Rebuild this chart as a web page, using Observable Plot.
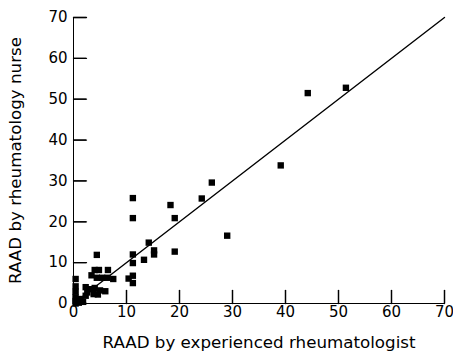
<!DOCTYPE html>
<html>
<head>
<meta charset="utf-8">
<script src="https://cdn.jsdelivr.net/npm/d3@7"></script>
<script src="https://cdn.jsdelivr.net/npm/@observablehq/plot@0.6"></script>
<style>
  html, body { margin: 0; padding: 0; background: #fff; }
  #chart svg { display: block; }
</style>
</head>
<body>
<div id="chart"></div>
<script>
// RAAD scores: experienced rheumatologist (x) vs rheumatology nurse (y)
const rheumatologist = [51.4, 44.2, 39.1, 26.1, 24.2, 29.0,
  11.2, 18.3, 11.2, 19.1, 14.2, 15.2, 15.2, 19.1, 11.2, 13.3, 11.2, 11.2, 10.4, 11.2,
  4.4, 4.0, 4.8, 6.5, 3.4, 4.4, 5.4, 6.4, 7.5,
  2.3, 3.0, 4.0, 5.0, 2.6, 3.8, 4.6, 6.0,
  0.4, 0.4, 0.4, 0.4, 0.4, 0.4, 1.0, 1.3, 1.8, 0.9, 2.3];
const nurse = [52.8, 51.5, 33.8, 29.6, 25.7, 16.6,
  25.8, 24.1, 20.9, 20.9, 14.9, 13.0, 12.0, 12.7, 12.0, 10.7, 9.9, 6.8, 6.1, 5.0,
  11.9, 8.2, 8.2, 8.2, 6.9, 6.3, 6.3, 6.3, 6.0,
  4.0, 3.5, 3.8, 3.2, 2.7, 2.3, 2.2, 3.0,
  6.0, 4.2, 2.9, 1.5, 0.6, 0.0, 0.2, 1.1, 0.4, 1.0, 1.9];
const axisTicks = [0, 10, 20, 30, 40, 50, 60, 70];
const identityLine = [0, 70];
const xLabel = "RAAD by experienced rheumatologist";
const yLabel = "RAAD by rheumatology nurse";

const points = rheumatologist.map((x, i) => ({x, y: nurse[i]}));
const linePts = identityLine.map(v => ({x: v, y: v}));
const noText = () => "";
const W = 453, H = 358, mL = 73, mR = 9, mT = 17, mB = 55, tickLen = 13;
const domainMax = 70;
// tick length expressed in data units of each scale (13px inward)
const xTickUnits = tickLen * domainMax / (H - mT - mB);
const yTickUnits = tickLen * domainMax / (W - mL - mR);
const xTickSegs = axisTicks.flatMap(t => [{x: t, y: 0, k: t}, {x: t, y: xTickUnits, k: t}]);
const yTickSegs = axisTicks.flatMap(t => [{x: 0, y: t, k: t}, {x: yTickUnits, y: t, k: t}]);

const chart = Plot.plot({
  width: W,
  height: H,
  marginLeft: mL,
  marginRight: mR,
  marginTop: mT,
  marginBottom: mB,
  style: {fontFamily: "'DejaVu Sans', sans-serif", fontSize: "15px", color: "#000", background: "#fff"},
  x: {domain: [0, domainMax]},
  y: {domain: [0, domainMax]},
  marks: [
    // tick labels
    Plot.axisX(axisTicks, {tickSize: 0, tickPadding: 3, fontSize: 15, label: null}),
    Plot.axisY(axisTicks, {tickSize: 0, tickPadding: 6, fontSize: 15, label: null}),
    // inward tick marks
    Plot.axisX(axisTicks, {tickSize: tickLen, dy: -tickLen, tickFormat: noText, label: null, strokeWidth: 1.2}),
    Plot.axisY(axisTicks, {tickSize: tickLen, dx: tickLen, tickFormat: noText, label: null, strokeWidth: 1.2}),
    Plot.line(xTickSegs, {x: "x", y: "y", z: "k", stroke: "#000", strokeWidth: 1.3}),
    Plot.line(yTickSegs, {x: "x", y: "y", z: "k", stroke: "#000", strokeWidth: 1.3}),
    // axis titles
    Plot.axisX({ticks: [], tickSize: 0, label: xLabel, labelAnchor: "center", labelOffset: 44, labelArrow: false, fontSize: 16.7}),
    Plot.axisY({ticks: [], tickSize: 0, label: yLabel, labelAnchor: "center", labelOffset: 64, labelArrow: false, fontSize: 16.7}),
    Plot.ruleY([0], {stroke: "#000", strokeWidth: 1}),
    Plot.ruleX([0], {stroke: "#000", strokeWidth: 1}),
    Plot.line(linePts, {x: "x", y: "y", stroke: "#000", strokeWidth: 1.4}),
    Plot.dot(points, {x: "x", y: "y", symbol: "square", r: 3.6, fill: "#000", stroke: "none"})
  ]
});
document.getElementById("chart").appendChild(chart);
</script>
</body>
</html>
